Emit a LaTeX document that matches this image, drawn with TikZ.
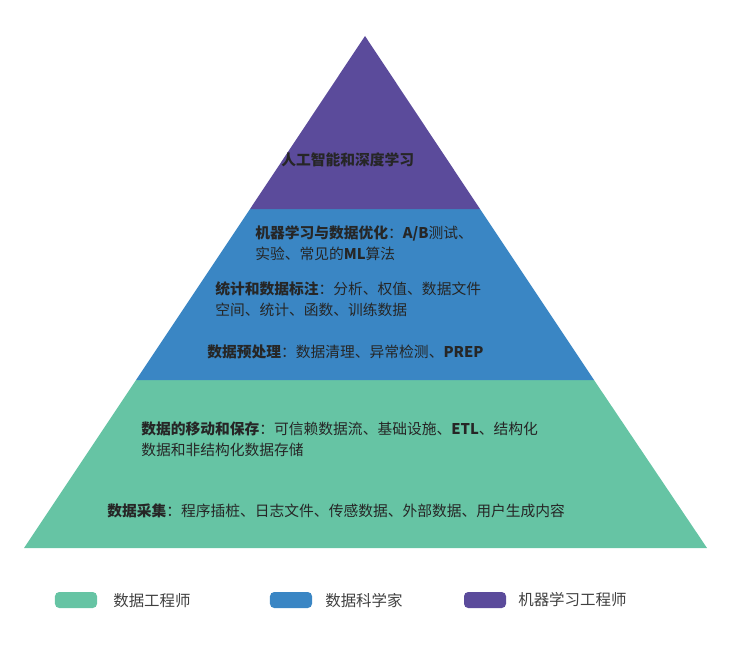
\documentclass[tikz,border=0pt]{standalone}
\usepackage{fontspec}
\setmainfont{Noto Sans CJK SC}
\definecolor{aipurple}{HTML}{5B4B9B}
\definecolor{dsblue}{HTML}{3A86C4}
\definecolor{degreen}{HTML}{66C4A4}
\tikzset{
  label/.style={anchor=west, inner sep=0pt, font=\fontsize{10.5}{15}\selectfont, text=black!85, align=left},
  keybox/.style={rounded corners=3pt, minimum width=1.05cm, minimum height=0.4cm, inner sep=0pt},
  keytext/.style={anchor=west, inner sep=0pt, font=\fontsize{11}{13}\selectfont, text=black!75}
}
\begin{document}
\begin{tikzpicture}[x=0.025cm, y=-0.025cm]
  \useasboundingbox (0,0) rectangle (734,650);
  % pyramid bands
  \fill[degreen] (136,380) -- (594,380) -- (707,548) -- (24,548) -- cycle;
  \fill[dsblue] (250,209) -- (480,209) -- (594,380) -- (136,380) -- cycle;
  \fill[aipurple] (365,36) -- (480,209) -- (250,209) -- cycle;

  \node (ai) [label] at (281,160) {\textbf{人工智能和深度学习}};
  \node (ml) [label] at (255,243) {\textbf{机器学习与数据优化}：\textbf{A/B}测试、\\实验、常见的\textbf{ML}算法};
  \node (stat) [label] at (215,299) {\textbf{统计和数据标注}：分析、权值、数据文件\\空间、统计、函数、训练数据};
  \node (prep) [label] at (207,352) {\textbf{数据预处理}：数据清理、异常检测、\textbf{PREP}};
  \node (move) [label] at (141,439) {\textbf{数据的移动和保存}：可信赖数据流、基础设施、\textbf{ETL}、结构化\\数据和非结构化数据存储};
  \node (collect) [label] at (107,511) {\textbf{数据采集}：程序插桩、日志文件、传感数据、外部数据、用户生成内容};

  % legend
  \node (kde) [keybox, fill=degreen] at (76,600) {};
  \node (kdetext) [keytext] at (113,601) {数据工程师};
  \node (kds) [keybox, fill=dsblue] at (291,600) {};
  \node (kdstext) [keytext] at (325,601) {数据科学家};
  \node (kml) [keybox, fill=aipurple] at (485,600) {};
  \node (kmltext) [keytext] at (518,600) {机器学习工程师};
\end{tikzpicture}
\end{document}
